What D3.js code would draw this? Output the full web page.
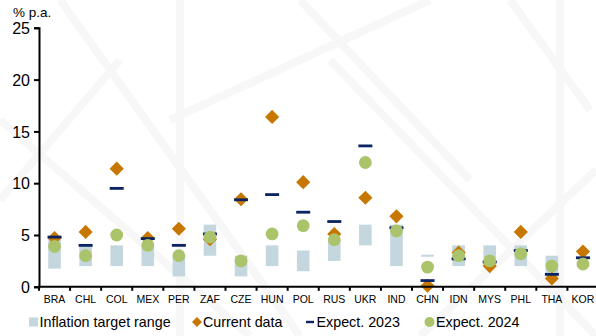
<!DOCTYPE html>
<html>
<head>
<meta charset="utf-8">
<script src="https://cdn.jsdelivr.net/npm/d3@7/dist/d3.min.js"></script>
<style>
  html, body { margin: 0; padding: 0; background: #ffffff; }
  svg { display: block; font-family: "Liberation Sans", Arial, sans-serif; }
</style>
</head>
<body>
<svg id="chart" width="596" height="336"></svg>
<script>
// Inflation: target ranges, latest prints and survey expectations (% p.a.)
const categories = ["BRA","CHL","COL","MEX","PER","ZAF","CZE","HUN","POL","RUS","UKR","IND","CHN","IDN","MYS","PHL","THA","KOR"];
const targetLow  = [1.75, 2.0, 2.0, 2.0, 1.0, 3.0, 1.0, 2.0, 1.5, 2.5, 4.0, 2.0, 3.0, 2.0, 2.0, 2.0, 1.0, 2.0];
const targetHigh = [4.75, 4.0, 4.0, 4.0, 3.0, 6.0, 3.0, 4.0, 3.5, 4.5, 6.0, 6.0, 3.0, 4.0, 4.0, 4.0, 3.0, 2.0];
const currentData = [4.7, 5.3, 11.4, 4.7, 5.6, 4.6, 8.45, 16.4, 10.1, 5.1, 8.6, 6.8, 0.1, 3.3, 2.0, 5.3, 0.8, 3.4];
const expect2023  = [4.8, 4.0, 9.5, 4.65, 4.0, 5.1, 8.4, 8.9, 7.2, 6.3, 13.6, 5.7, 0.6, 2.7, 2.4, 3.5, 1.2, 2.8];
const expect2024  = [3.9, 3.0, 5.0, 4.0, 3.0, 4.8, 2.5, 5.1, 5.9, 4.55, 12.0, 5.4, 1.9, 3.0, 2.5, 3.2, 2.0, 2.2];
const yTicks = [0, 5, 10, 15, 20, 25];
const unitLabel = "% p.a.";
const legendLabels = ["Inflation target range", "Current data", "Expect. 2023", "Expect. 2024"];

const colors = {
  range: "#c4d7df",
  current: "#c77700",
  exp23: "#0b2363",
  exp24: "#abc46b"
};

const svg = d3.select("#chart");

// faint diagonal watermark bands in the background
const bg = svg.append("g").attr("stroke", "#f7f7f7").attr("stroke-width", 8).attr("fill", "none");
[[60, 0, 300, 336], [170, 120, 430, 0], [300, 0, 470, 180], [330, 60, 596, 336], [510, 0, 590, 110],
 [0, 200, 120, 60], [420, 336, 596, 170], [560, 0, 560, 336], [180, 0, 180, 336], [0, 120, 250, 336]]
  .forEach(([x1, y1, x2, y2]) => bg.append("line").attr("x1", x1).attr("y1", y1).attr("x2", x2).attr("y2", y2));

const plot = { left: 39, right: 598.5, top: 27.8, bottom: 286.8 };

const x = d3.scaleBand().domain(categories).range([plot.left, plot.right]).paddingInner(0).paddingOuter(0);
const y = d3.scaleLinear().domain([0, 25]).range([plot.bottom, plot.top]);
const cx = c => x(c) + x.bandwidth() / 2;

// y axis
const yAxis = svg.append("g")
  .attr("transform", `translate(${plot.left},0)`)
  .call(d3.axisLeft(y).tickValues(yTicks).tickSize(5).tickPadding(4).tickFormat(d3.format("d")));
yAxis.select(".domain").attr("stroke", "#000").attr("stroke-width", 2);
yAxis.selectAll(".tick line").attr("stroke", "#000").attr("stroke-width", 2);
yAxis.selectAll(".tick text").attr("font-size", 16).attr("fill", "#000").attr("dy", "0.35em");

svg.append("text").attr("x", 13).attr("y", 17).attr("font-size", 13.5).attr("fill", "#000").text(unitLabel);

// target ranges
const g = svg.append("g");
g.selectAll("rect.range").data(categories).join("rect")
  .attr("class", "range")
  .attr("x", c => cx(c) - 6.3)
  .attr("width", 12.6)
  .attr("y", (c, i) => y(targetHigh[i]) - (targetHigh[i] === targetLow[i] ? 1 : 0))
  .attr("height", (c, i) => Math.max(2, y(targetLow[i]) - y(targetHigh[i])))
  .attr("fill", colors.range);

// current data (diamonds)
const diamond = d3.symbol().type(d3.symbolSquare).size(100);
g.selectAll("path.current").data(categories).join("path")
  .attr("class", "current")
  .attr("d", diamond)
  .attr("transform", (c, i) => `translate(${cx(c)},${y(currentData[i])}) rotate(45)`)
  .attr("fill", colors.current);

// 2023 expectations (dashes)
g.selectAll("rect.exp23").data(categories).join("rect")
  .attr("class", "exp23")
  .attr("x", c => cx(c) - 7)
  .attr("width", 14)
  .attr("y", (c, i) => y(expect2023[i]) - 1.4)
  .attr("height", 2.8)
  .attr("fill", colors.exp23);

// 2024 expectations (dots)
g.selectAll("circle.exp24").data(categories).join("circle")
  .attr("class", "exp24")
  .attr("cx", c => cx(c))
  .attr("cy", (c, i) => y(expect2024[i]))
  .attr("r", 6.4)
  .attr("fill", colors.exp24);

// x axis
const xAxis = svg.append("g").attr("transform", `translate(0,${plot.bottom})`);
xAxis.append("line").attr("x1", plot.left - 1).attr("x2", plot.right).attr("y1", 0).attr("y2", 0)
  .attr("stroke", "#000").attr("stroke-width", 2);
xAxis.selectAll("line.tk").data(d3.range(categories.length + 1)).join("line")
  .attr("class", "tk")
  .attr("x1", i => plot.left + i * x.bandwidth())
  .attr("x2", i => plot.left + i * x.bandwidth())
  .attr("y1", 0).attr("y2", 4)
  .attr("stroke", "#000").attr("stroke-width", 2);
xAxis.selectAll("text").data(categories).join("text")
  .attr("x", c => cx(c))
  .attr("y", 16)
  .attr("text-anchor", "middle")
  .attr("font-size", 10.5)
  .attr("fill", "#000")
  .text(c => c);

// legend
const leg = svg.append("g").attr("font-size", 14.3).attr("fill", "#000");
const ly = 322;
leg.append("rect").attr("x", 29).attr("y", ly - 4.5).attr("width", 9).attr("height", 9).attr("fill", colors.range);
leg.append("text").attr("x", 39.5).attr("y", ly + 5).text(legendLabels[0]);
leg.append("path").attr("d", d3.symbol().type(d3.symbolSquare).size(50))
  .attr("transform", `translate(197,${ly}) rotate(45)`).attr("fill", colors.current);
leg.append("text").attr("x", 203).attr("y", ly + 5).text(legendLabels[1]);
leg.append("rect").attr("x", 306).attr("y", ly - 1.2).attr("width", 8).attr("height", 2.4).attr("fill", colors.exp23);
leg.append("text").attr("x", 316.5).attr("y", ly + 5).text(legendLabels[2]);
leg.append("circle").attr("cx", 429.5).attr("cy", ly).attr("r", 5).attr("fill", colors.exp24);
leg.append("text").attr("x", 436).attr("y", ly + 5).text(legendLabels[3]);
</script>
</body>
</html>
